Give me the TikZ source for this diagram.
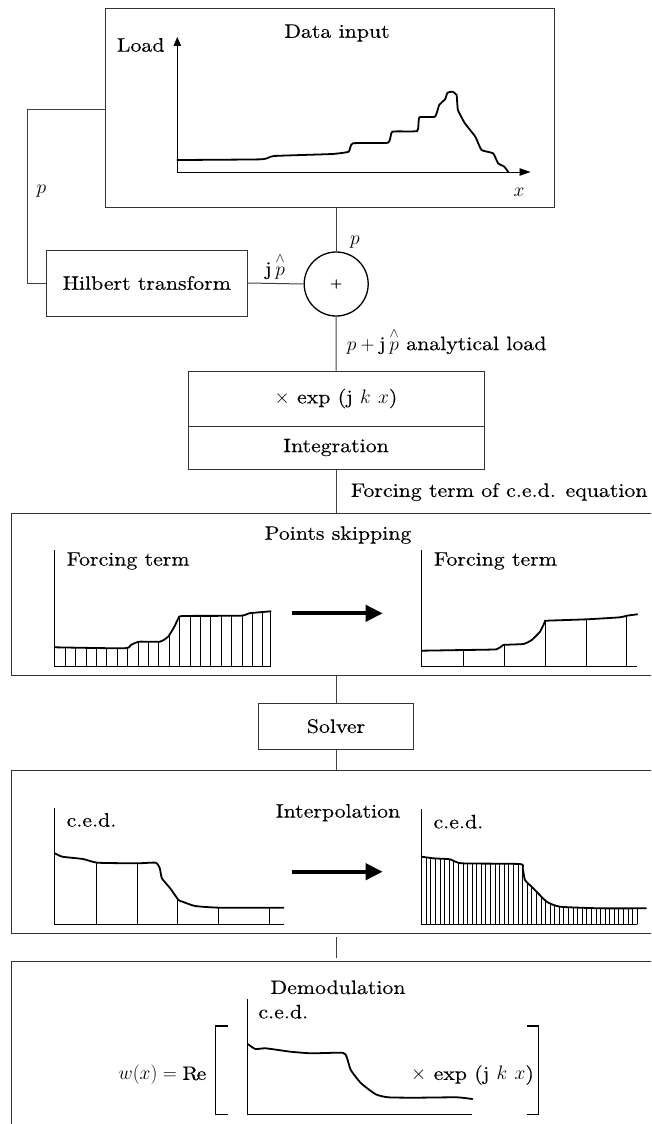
\RequirePackage{fix-cm}
\documentclass[tikz,border=0pt]{standalone}
\usepackage{amsmath}
\usepackage{fontspec}
\setmainfont{lmroman10-regular.otf}[FakeStretch=1.12, FakeBold=0.2, ItalicFont=lmroman10-italic.otf, BoldFont=lmroman10-bold.otf]
\usetikzlibrary{arrows.meta}
\newcommand{\jhat}{\mathrm{j}\mkern4mu\overset{\wedge}{p}}
\tikzset{
  every node/.style={font=\fontsize{19.5}{23}\selectfont, inner sep=0pt},
  box/.style={draw=black!80, line width=1pt, inner sep=0pt},
  conn/.style={draw=black!75, line width=1pt},
  axis/.style={line width=0.9pt},
  hatch/.style={line width=0.9pt},
  curve/.style={line width=1.8pt, line join=round, line cap=round},
  bigarrow/.style={line width=4pt, -{Triangle[length=17pt,width=16pt]}},
  bracket/.style={line width=1.1pt}
}
\begin{document}
\begin{tikzpicture}[x=1pt,y=-1pt]
\useasboundingbox (0,0) rectangle (651,1124);
\clip (0,0) rectangle (651,1124);

% ---------- Data input ----------
\node[box, minimum width=448.3pt, minimum height=199pt] (datain) at (330,107.8) {};
\node (tdata) at (337,33) {Data input};
\node (tload) at (140.7,45) {Load};
\coordinate (yax0) at (177.3,172);
\coordinate (yax1) at (177.3,37);
\coordinate (xax1) at (530.5,172);
\draw[axis, -{Triangle[length=9pt,width=7.5pt]}] (yax0) -- (yax1);
\draw[axis, -{Triangle[length=11pt,width=7.5pt]}] (yax0) -- (xax1);
\node (tx) at (519,192) {$x$};
\draw[curve] plot[smooth, tension=0.25] coordinates {(177.3,160) (261.5,159.3) (274,156) (332,154) (348.7,151.7) (352.8,143.3) (388.1,142.7) (392.3,131.7) (417.2,131) (419.3,117.3) (435,116.7) (439.2,105) (445,99.3) (447.5,92.7) (452.5,91.7) (456.6,95) (457.9,110) (464.9,123.3) (475.3,136.7) (481.5,150) (493.1,153.3) (498.1,163.3) (504.3,166.7) (508.5,172.3)};

% ---------- Hilbert + sum ----------
\node[box, minimum width=200.5pt, minimum height=66pt] (hilb) at (146.8,283) {Hilbert transform};
\coordinate (fbtop) at (27,109);
\draw[conn] (hilb.west) -| (fbtop) -- (fbtop -| datain.west);
\node (tp1) at (41.5,191) {$p$};
\node[draw, circle, line width=1.3pt, minimum size=64pt] (sum) at (336.2,284) {\fontsize{14}{16}\selectfont +};
\draw[conn] (datain.south -| sum) -- (sum.north);
\node (tp2) at (355,242) {$p$};
\draw[conn] (hilb.east) -- (sum.west);
\node (tjp) at (275,266) {$\jhat$};

% ---------- exp / integration ----------
\node[box, minimum width=296pt, minimum height=55pt] (expb) at (336,398.5) {$\times$ exp (j $k$ $x$)};
\node[box, minimum width=296pt, minimum height=43pt] (intb) at (336,447.5) {Integration};
\draw[conn] (sum.south) -- (expb.north);
\node[anchor=west] (tan) at (346.6,341) {$p + \jhat$ analytical load};

% ---------- Points skipping ----------
\node[box, minimum width=648.8pt, minimum height=162.5pt] (pskip) at (335.6,594.25) {};
\draw[conn] (intb.south) -- (intb.south |- pskip.north);
\node[anchor=west] (tforce) at (350.8,492) {Forcing term of c.e.d. equation};
\node (tps) at (338,535) {Points skipping};

\draw[axis] (54.8,550) -- (54.8,666) -- (270.6,666);
\node[anchor=west] (tft1) at (66.4,561) {Forcing term};
\begin{scope}
\clip (54.8,666) -- plot[smooth, tension=0.3] coordinates {(54.8,647.3) (124.5,648.3) (130.8,645) (139,641.7) (159.8,641.7) (168.1,636.7) (174.3,626.7) (178.5,618.3) (182.6,616) (240.8,615.7) (249,613.3) (270.6,611.3)} -- (270.6,666) -- cycle;
\foreach \i in {1,...,20} \draw[hatch] (54.8+10.4*\i,670) -- ++(0,-80);
\end{scope}
\draw[hatch] (270.6,666) -- (270.6,611.3);
\draw[curve] plot[smooth, tension=0.3] coordinates {(54.8,647.3) (124.5,648.3) (130.8,645) (139,641.7) (159.8,641.7) (168.1,636.7) (174.3,626.7) (178.5,618.3) (182.6,616) (240.8,615.7) (249,613.3) (270.6,611.3)};

\coordinate (a1s) at (291.8,613.3);
\coordinate (a1e) at (382.7,613.3);
\draw[bigarrow] (a1s) -- (a1e);

\draw[axis] (421.7,550) -- (421.7,666) -- (637.3,666);
\node[anchor=west] (tft2) at (433.8,561) {Forcing term};
\begin{scope}
\clip (421.7,666) -- plot[smooth, tension=0.3] coordinates {(421.7,650.7) (463.3,650) (496.7,649.3) (503.3,645) (523.3,644) (531.7,640) (540,631.7) (545,621.7) (546.7,620.7) (586.7,619.3) (620,617.3) (626.7,615.7) (637.3,614.3)} -- (637.3,666) -- cycle;
\foreach \xx in {463.3,504.3,545,586.7,626.7} \draw[hatch] (\xx,670) -- ++(0,-80);
\end{scope}
\draw[curve] plot[smooth, tension=0.3] coordinates {(421.7,650.7) (463.3,650) (496.7,649.3) (503.3,645) (523.3,644) (531.7,640) (540,631.7) (545,621.7) (546.7,620.7) (586.7,619.3) (620,617.3) (626.7,615.7) (637.3,614.3)};

% ---------- Solver ----------
\node[box, minimum width=154.8pt, minimum height=45.7pt] (solver) at (336,726.2) {Solver};
\draw[conn] (pskip.south -| solver) -- (solver.north);

% ---------- Interpolation ----------
\node[box, minimum width=648.8pt, minimum height=162.8pt] (interp) at (335.6,852.1) {};
\draw[conn] (solver.south) -- (solver.south |- interp.north);
\node (tint) at (338,812.7) {Interpolation};

\draw[axis] (54.8,808.3) -- (54.8,924.3) -- (283.5,924.3);
\node[anchor=west] (tced1) at (66.4,820) {c.e.d.};
\begin{scope}
\clip (54.8,924.3) -- plot[smooth, tension=0.3] coordinates {(54.8,853.3) (62.3,856.7) (83,859) (97.5,862.7) (137,863.3) (155.7,862.7) (159.8,868.3) (161.9,878.3) (170.2,888.3) (178.5,900) (182.6,901.7) (195.1,906) (220,907.7) (283.5,907.7)} -- (283.5,924.3) -- cycle;
\foreach \xx in {96.7,137,177.7,218.8,269.8} \draw[hatch] (\xx,930) -- ++(0,-90);
\end{scope}
\draw[curve] plot[smooth, tension=0.3] coordinates {(54.8,853.3) (62.3,856.7) (83,859) (97.5,862.7) (137,863.3) (155.7,862.7) (159.8,868.3) (161.9,878.3) (170.2,888.3) (178.5,900) (182.6,901.7) (195.1,906) (220,907.7) (283.5,907.7)};

\coordinate (a2s) at (291.8,871.7);
\coordinate (a2e) at (382.7,871.7);
\draw[bigarrow] (a2s) -- (a2e);

\draw[axis] (421.7,809.3) -- (421.7,924.3) -- (637.3,924.3);
\node[anchor=west] (tced2) at (433.3,821.7) {c.e.d.};
\begin{scope}
\clip (421.7,924.3) -- plot[smooth, tension=0.3] coordinates {(421.7,856.7) (433.3,858.3) (450,859.3) (461.7,863.3) (520,864) (522.7,868.3) (525,880) (533.3,888.3) (546.7,901.7) (560,906.7) (600,908.3) (646,908.3)} -- (646,924.3) -- cycle;
\foreach \i in {1,...,47} \draw[hatch] (421.7+4.587*\i,930) -- ++(0,-90);
\end{scope}
\draw[curve] plot[smooth, tension=0.3] coordinates {(421.7,856.7) (433.3,858.3) (450,859.3) (461.7,863.3) (520,864) (522.7,868.3) (525,880) (533.3,888.3) (546.7,901.7) (560,906.7) (600,908.3) (646,908.3)};

% ---------- Demodulation ----------
\node[box, minimum width=648.8pt, minimum height=170pt] (demod) at (335.6,1046.7) {};
\draw[conn, shorten <=3pt, shorten >=3pt] (interp.south -| solver) -- (demod.north -| solver);
\node (tdem) at (338,987.3) {Demodulation};

\draw[axis] (247.8,999) -- (247.8,1114.3) -- (472.4,1114.3);
\node[anchor=west] (tced3) at (258.2,1011.7) {c.e.d.};
\draw[curve] plot[smooth, tension=0.3] coordinates {(247.8,1044) (255.3,1049) (265.7,1048.3) (290.6,1051.7) (311.3,1053.3) (342.5,1052.7) (346.6,1056.7) (350.8,1070) (361.1,1083.3) (375.7,1094.3) (388.1,1097.3) (415.1,1097.7) (456.6,1097.3) (472.4,1099)};
\draw[bracket] (228.3,1026) -- (215.9,1026) -- (215.9,1114.3) -- (228.3,1114.3);
\draw[bracket] (527.2,1026) -- (538.8,1026) -- (538.8,1114.3) -- (527.2,1114.3);
\node[anchor=east] (tw) at (205.5,1075) {$w(x) = \mathrm{Re}$};
\node[anchor=west] (texp2) at (411,1075) {$\times$ exp (j $k$ $x$)};
\end{tikzpicture}
\end{document}
